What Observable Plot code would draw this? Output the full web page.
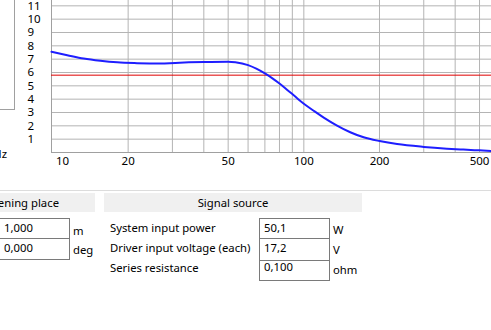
<!DOCTYPE html>
<html><head><meta charset="utf-8">
<script src="https://cdn.jsdelivr.net/npm/d3@7"></script>
<script src="https://cdn.jsdelivr.net/npm/@observablehq/plot@0.6"></script>
<style>
html,body{margin:0;padding:0;background:#fff;overflow:hidden;}
#wrap{position:relative;width:491px;height:330px;overflow:hidden;font-family:"Noto Sans",sans-serif;font-size:11.3px;color:#000;}
#chart{position:absolute;left:0;top:0;}
.t{position:absolute;white-space:nowrap;line-height:16px;height:16px;}
.box{position:absolute;box-sizing:border-box;border:1px solid #7a7a7a;background:#fff;}
.hdr{position:absolute;background:#f0f0f0;height:19px;top:193px;}
</style></head>
<body>
<div id="wrap"><div id="chart"></div></div>
<script>
// ---- chart data ----
const freq  = [9.91, 11.45, 13.3, 15.5, 18.1, 21.7, 26.9, 30.8, 40, 50, 53.4, 60, 65, 70, 75, 80, 85, 90, 95, 100, 110, 120, 135, 153, 173, 200, 235, 300, 371, 431, 500, 558];
const value = [7.55, 7.30, 7.05, 6.88, 6.76, 6.70, 6.67, 6.72, 6.78, 6.80, 6.76, 6.55, 6.27, 5.93, 5.56, 5.17, 4.77, 4.38, 4.00, 3.66, 3.10, 2.62, 2.04, 1.52, 1.14, 0.86, 0.63, 0.42, 0.29, 0.22, 0.16, 0.12];
const refLevel = [5.8];
const xTickLabels = [20, 50, 100, 200, 500];
const xFirstLabel = [10];
const xGrid = [20, 30, 40, 50, 60, 70, 80, 90, 100, 200, 300, 400, 500];
const yTicks = [1, 2, 3, 4, 5, 6, 7, 8, 9, 10, 11];
const xDomain = [9.91, 558];
const yDomain = [0, 11.4];

// ---- panel texts ----
const placeTitle = "Listening place";
const placeValues = ["1,000", "0,000"];
const placeUnits = ["m", "deg"];
const sourceTitle = "Signal source";
const sourceLabels = ["System input power", "Driver input voltage (each)", "Series resistance"];
const sourceValues = ["50,1", "17,2", "0,100"];
const sourceUnits = ["W", "V", "ohm"];

const data = freq.map((f, i) => ({f, v: value[i]}));
const grid = "#b4b4b4";

const chart = Plot.plot({
  width: 491, height: 175,
  marginLeft: 51, marginRight: 0, marginTop: 0, marginBottom: 23,
  style: {fontFamily: '"Noto Sans", sans-serif', fontSize: "11.5px", background: "transparent", color: "#000", overflow: "visible"},
  x: {type: "log", domain: xDomain, label: null, axis: null},
  y: {domain: yDomain, label: null, axis: null},
  marks: [
    Plot.ruleX(xGrid, {stroke: grid, strokeWidth: 1}),
    Plot.ruleY(yTicks, {stroke: grid, strokeWidth: 1}),
    Plot.ruleY([yDomain[0]], {stroke: "#a0a0a0"}),
    Plot.ruleX([xDomain[0]], {stroke: "#a0a0a0"}),
    Plot.ruleY(refLevel, {stroke: "#e00000", strokeWidth: 1}),
    Plot.line(data, {x: "f", y: "v", stroke: "#1e1eff", strokeWidth: 2, curve: "monotone-x"}),
    Plot.text(yTicks, {y: d => d, frameAnchor: "left", dx: -24, textAnchor: "start", fill: "#000", text: d => String(d)}),
    Plot.text(xTickLabels, {x: d => d, frameAnchor: "bottom", lineAnchor: "top", dy: 4, fill: "#000", text: d => String(d)}),
    Plot.text(xFirstLabel, {x: d => d, frameAnchor: "bottom", lineAnchor: "top", dy: 4, dx: 10, fill: "#000", text: d => String(d)})
  ]
});
document.getElementById("chart").appendChild(chart);

// ---- surrounding UI panel ----
const wrap = document.getElementById("wrap");
function el(cls, css, text) {
  const d = document.createElement("div");
  d.className = cls;
  d.style.cssText = css;
  if (text != null) d.textContent = text;
  wrap.appendChild(d);
  return d;
}
function txt(x, cy, s, extra) { return el("t", `left:${x}px;top:${cy - 8.5}px;` + (extra || ""), s); }

// left side panel border
el("", "position:absolute;left:-10px;top:-10px;width:25px;height:120px;border:1px solid #a0a0a0;box-sizing:border-box;");
el("t", "right:484px;top:146px;", "Hz");

// separator
el("", "position:absolute;left:0;top:190px;width:491px;height:1px;background:#dcdcdc;");

// headers
el("hdr", "left:-60px;width:155px;");
el("t", "right:432px;top:194.5px;", placeTitle);
el("hdr", "left:104px;width:258px;");
el("t", "left:104px;width:258px;text-align:center;top:194.5px;", sourceTitle);

// listening place boxes
const lTops = [218, 238], lH = [21, 22];
placeValues.forEach((v, i) => {
  el("box", `left:-10px;width:80px;top:${lTops[i]}px;height:${lH[i]}px;`);
  txt(4, [228, 248][i], v);
  txt(73, [231.5, 250][i], placeUnits[i]);
});

// signal source rows
const rTops = [218, 238, 260], rH = [21, 23, 21];
sourceLabels.forEach((lab, i) => {
  txt(110, [228, 248.3, 268.3][i], lab);
  el("box", `left:259px;width:71px;top:${rTops[i]}px;height:${rH[i]}px;`);
  txt(264, [228.3, 248.3, 267.3][i], sourceValues[i]);
  txt(333, [230, 250, 270.5][i], sourceUnits[i]);
});
</script>
</body></html>
